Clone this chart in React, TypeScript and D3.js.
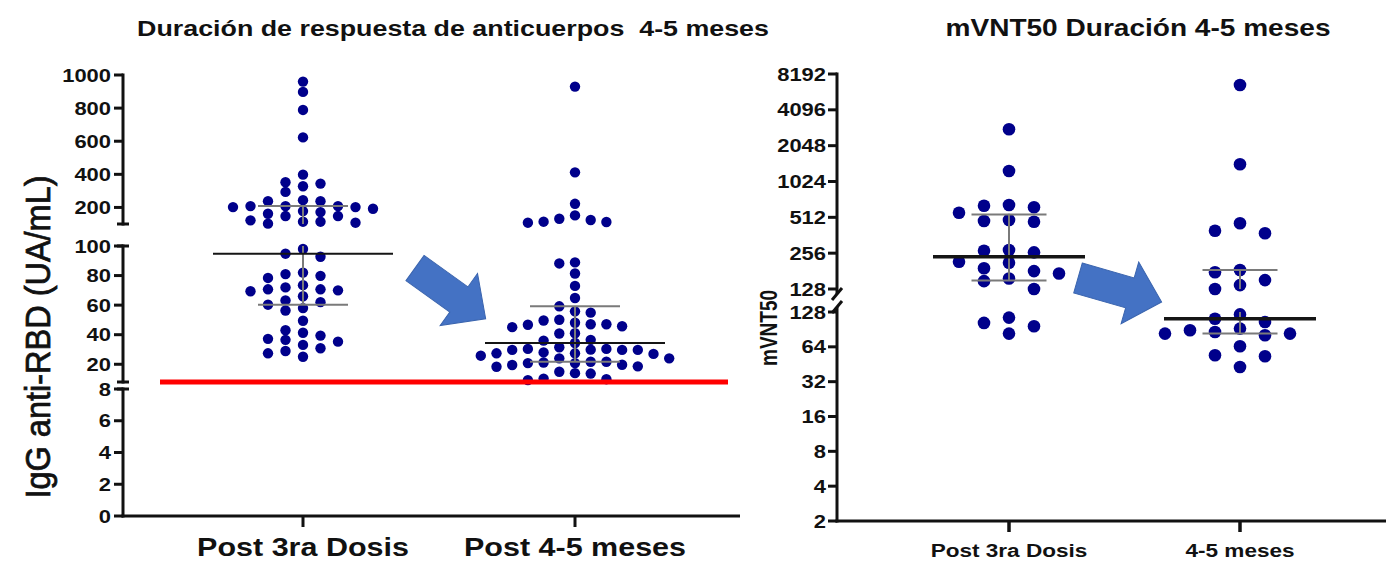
import React from "react";
import * as d3 from "d3";

// IgG anti-RBD (UA/mL), left panel
const igGroups = ["Post 3ra Dosis", "Post 4-5 meses"];
const igPost3ra = [
  960, 898, 789, 623, 398, 344, 328, 352, 294, 244, 172, 238, 178, 122, 208, 148, 192, 108, 202, 102,
  208, 148, 208, 114, 202, 114, 238, 162,
  98, 94.8, 92.7, 79.8, 78.4, 82, 81, 73.5, 70.7, 70.7, 70, 72, 69.4, 62, 63.2, 56.4, 60.3, 66, 58,
  49.4, 41.3, 39.4, 33.1, 35.3, 29, 37.2, 30.8, 43, 36.5, 25.1, 27.4,
];
const igPost45 = [
  930, 412, 222, 112, 132, 152, 108, 114, 124,
  88.2, 88.9, 81.4, 73, 64.8, 59.2, 55.8, 54.9, 46.7, 47.1, 50.1, 45.1, 49.6, 48.1, 47.1, 45.7, 40.8,
  36.5, 36, 41, 34.4, 29.7, 21.2, 30.4, 24, 27.4, 27.4, 29.7, 29.7, 31.5, 25.8, 27, 28, 21.7, 30.4, 24,
  29.9, 21.7, 19.5, 20.8, 14, 18.3, 10.3, 19.7, 13.7, 20.8, 9.3, 18.6, 14.9, 9.9,
];
const igUpperTicks = [200, 400, 600, 800, 1000];
const igMidTicks = [20, 40, 60, 80, 100];
const igLowTicks = [0, 2, 4, 6, 8];
const igCutoff = 8;

// mVNT50, right panel
const vntGroups = ["Post 3ra Dosis", "4-5 meses"];
const vntPost3ra = [
  2811, 1255, 650, 622, 641, 560, 470, 486, 477, 260, 272, 268, 217, 191, 173, 213, 181, 149, 157, 128,
  114.5, 83.3, 103, 96.4,
];
const vnt45 = [
  6627, 1428, 456, 395, 376, 185, 177, 152, 128, 138, 122, 112, 105, 80.6, 86, 64.8, 42.9, 92, 83.3,
  83.3, 89, 53, 54.2,
];
const vntUpperTicks = [128, 256, 512, 1024, 2048, 4096, 8192];
const vntLowerTicks = [2, 4, 8, 16, 32, 64, 128];

const FONT = "'Liberation Sans', Arial, Helvetica, sans-serif";
const DOT = "#00008B";
const ARROW = "#4472C4";
const SX = 1.22; // the source figure is stretched horizontally

type Seg = { lo: number; hi: number; y: (v: number) => number; ticks: number[] };

const posOf = (segs: Seg[]) => (v: number) => {
  const s = segs.find((s) => v >= s.lo && v <= s.hi) ?? segs[segs.length - 1];
  return s.y(v);
};

// quartiles the way Prism computes them: position p*(n+1)
function quart(values: number[], p: number) {
  const s = [...values].sort((a, b) => a - b);
  const n = s.length;
  const h = p * (n + 1);
  if (h <= 1) return s[0];
  if (h >= n) return s[n - 1];
  const i = Math.floor(h);
  return s[i - 1] + (h - i) * (s[i] - s[i - 1]);
}

// column layout: each dot goes in the lane nearest the centre that is free
function swarm(values: number[], pos: (v: number) => number, gap: number) {
  const pts = values.map((v, i) => ({ v, i, y: pos(v), lane: 0 }));
  const lanes = new Map<number, number[]>();
  [...pts].sort((a, b) => a.y - b.y).forEach((p) => {
    for (let k = 0; k < 60; k++) {
      const lane = k === 0 ? 0 : k % 2 === 1 ? -(k + 1) / 2 : k / 2;
      const ys = lanes.get(lane) || [];
      if (ys.every((y) => Math.abs(y - p.y) >= gap)) {
        p.lane = lane;
        ys.push(p.y);
        lanes.set(lane, ys);
        break;
      }
    }
  });
  return pts;
}

function clipped(a: number, b: number, segs: Seg[]) {
  const lo = Math.min(a, b);
  const hi = Math.max(a, b);
  return segs
    .filter((s) => hi >= s.lo && lo <= s.hi)
    .map((s) => [s.y(Math.max(lo, s.lo)), s.y(Math.min(hi, s.hi))])
    .filter(([y1, y2]) => Math.abs(y1 - y2) > 0.5);
}

const HText = ({ x, y, size, anchor = "middle", weight = "bold", children }: any) => (
  <text
    transform={`translate(${x},${y}) scale(${SX},1)`}
    textAnchor={anchor}
    fontSize={size}
    fontWeight={weight}
    fontFamily={FONT}
    fill="#111"
    style={{ whiteSpace: "pre" }}
  >
    {children}
  </text>
);

const Arrow = ({ x, y, angle }: { x: number; y: number; angle: number }) => {
  const L = 87, hl = 33, h1 = 15.5, h2 = 32;
  const pts = [[0, -h1], [L - hl, -h1], [L - hl, -h2], [L, 0], [L - hl, h2], [L - hl, h1], [0, h1]];
  return (
    <polygon
      points={pts.map((p) => p.join(",")).join(" ")}
      transform={`translate(${x},${y}) rotate(${angle})`}
      fill={ARROW}
      stroke="#3A64AE"
      strokeWidth={1}
    />
  );
};

function Groups({ series, x, segs, r, gap, spacing, medHalf, qHalf, medWidth }: any) {
  const pos = posOf(segs);
  return (
    <g>
      {series.map((vals: number[], gi: number) => {
        const cx = x(gi);
        const dots = swarm(vals, pos, gap);
        const med = quart(vals, 0.5);
        const q1 = quart(vals, 0.25);
        const q3 = quart(vals, 0.75);
        return (
          <g key={gi}>
            {dots.map((d) => (
              <circle key={d.i} cx={cx + d.lane * spacing[gi]} cy={d.y} r={r} fill={DOT} />
            ))}
            {clipped(q1, q3, segs).map(([y1, y2], k) => (
              <line key={k} x1={cx} x2={cx} y1={y1} y2={y2} stroke="#7a7a7a" strokeWidth={2} />
            ))}
            {[q1, q3].map((q, k) => (
              <line key={"q" + k} x1={cx - qHalf} x2={cx + qHalf} y1={pos(q)} y2={pos(q)} stroke="#7a7a7a" strokeWidth={2} />
            ))}
            <line x1={cx - medHalf} x2={cx + medHalf} y1={pos(med)} y2={pos(med)} stroke="#151515" strokeWidth={medWidth} />
          </g>
        );
      })}
    </g>
  );
}

export default function App() {
  // left panel scales
  const igSegs: Seg[] = [
    { lo: 100, hi: 1000, y: d3.scaleLinear().domain([100, 1000]).range([224, 75]), ticks: igUpperTicks },
    { lo: 8, hi: 100, y: d3.scaleLinear().domain([8, 100]).range([382, 246]), ticks: igMidTicks },
    { lo: 0, hi: 8, y: d3.scaleLinear().domain([0, 8]).range([516, 389]), ticks: igLowTicks },
  ];
  const igX = d3.scalePoint<string>().domain(igGroups).range([303, 575]);
  const igAxisX = 123;
  const igBase = 516;

  // right panel scales
  const vntSegs: Seg[] = [
    { lo: 128, hi: 8192, y: d3.scaleLog().base(2).domain([128, 8192]).range([289, 74]), ticks: vntUpperTicks },
    { lo: 2, hi: 128, y: d3.scaleLog().base(2).domain([2, 128]).range([521, 312]), ticks: vntLowerTicks },
  ];
  const vntX = d3.scalePoint<string>().domain(vntGroups).range([1009, 1240]);
  const vntAxisX = 837;
  const vntBase = 521;

  const igPos = posOf(igSegs);

  return (
    <svg width={1398} height={562} style={{ position: "fixed", left: 0, top: 0, background: "#fff" }}>
      <rect width={1398} height={562} fill="#fff" />

      {/* ---------- left panel ---------- */}
      <HText x={453} y={36} size={22}>Duración de respuesta de anticuerpos  4-5 meses</HText>
      <text
        transform={`translate(50,337) scale(1.08,1) rotate(-90)`}
        textAnchor="middle"
        fontSize={32.5}
        fontFamily={FONT}
        fill="#111"
        stroke="#111"
        strokeWidth={0.7}
      >
        IgG anti-RBD (UA/mL)
      </text>

      {igSegs.map((s, i) => {
        const yTop = s.y(s.hi);
        const yBot = i === igSegs.length - 1 ? igBase : s.y(s.lo);
        return (
          <g key={i}>
            <line x1={igAxisX} x2={igAxisX} y1={yTop - 1.5} y2={yBot + 1.5} stroke="#111" strokeWidth={3} />
            {i > 0 && <line x1={igAxisX - 6} x2={igAxisX + 6} y1={yTop} y2={yTop} stroke="#111" strokeWidth={3} />}
            {i < igSegs.length - 1 && <line x1={igAxisX - 6} x2={igAxisX + 6} y1={yBot} y2={yBot} stroke="#111" strokeWidth={3} />}
            {s.ticks.map((t) => (
              <g key={t}>
                <line x1={igAxisX - 9} x2={igAxisX} y1={s.y(t)} y2={s.y(t)} stroke="#111" strokeWidth={3} />
                <HText x={igAxisX - 12} y={s.y(t) + 6.5} size={18} anchor="end">{t}</HText>
              </g>
            ))}
          </g>
        );
      })}
      <line x1={igAxisX - 1.5} x2={740} y1={igBase} y2={igBase} stroke="#111" strokeWidth={3} />
      {igGroups.map((g) => (
        <g key={g}>
          <line x1={igX(g)!} x2={igX(g)!} y1={igBase} y2={igBase + 11} stroke="#111" strokeWidth={3} />
          <HText x={igX(g)!} y={556} size={25}>{g}</HText>
        </g>
      ))}

      <Groups
        series={[igPost3ra, igPost45]}
        x={(i: number) => igX(igGroups[i])!}
        segs={igSegs}
        r={5.2}
        gap={9.6}
        spacing={[17.5, 15.7]}
        medHalf={90}
        qHalf={45}
        medWidth={2}
      />
      <line x1={160} x2={728} y1={igPos(igCutoff)} y2={igPos(igCutoff)} stroke="#FF0000" strokeWidth={5} />
      <Arrow x={415} y={268} angle={35.7} />

      {/* ---------- right panel ---------- */}
      <HText x={1138} y={36} size={23}>mVNT50 Duración 4-5 meses</HText>
      <text
        transform={`translate(777,328) scale(${SX},1) rotate(-90)`}
        textAnchor="middle"
        fontSize={19}
        fontWeight="bold"
        fontFamily={FONT}
        fill="#111"
      >
        mVNT50
      </text>

      {vntSegs.map((s, i) => {
        const yTop = i === 0 ? s.y(s.hi) - 1.5 : s.y(s.hi) - 5;
        const yBot = i === vntSegs.length - 1 ? vntBase + 1.5 : s.y(s.lo) + 5;
        return (
          <g key={i}>
            <line x1={vntAxisX} x2={vntAxisX} y1={yTop} y2={yBot} stroke="#111" strokeWidth={3} />
            {s.ticks.map((t) => (
              <g key={t}>
                <line x1={vntAxisX - 9} x2={vntAxisX} y1={s.y(t)} y2={s.y(t)} stroke="#111" strokeWidth={3} />
                <HText x={vntAxisX - 11} y={s.y(t) + 6.5} size={18} anchor="end">{t}</HText>
              </g>
            ))}
          </g>
        );
      })}
      {[vntSegs[0].y(128) + 5, vntSegs[1].y(128) - 5].map((y, k) => (
        <line key={k} x1={vntAxisX - 5} x2={vntAxisX + 5} y1={y + 6} y2={y - 6} stroke="#111" strokeWidth={3} />
      ))}
      <line x1={vntAxisX - 1.5} x2={1386} y1={vntBase} y2={vntBase} stroke="#111" strokeWidth={3} />
      {vntGroups.map((g) => (
        <g key={g}>
          <line x1={vntX(g)!} x2={vntX(g)!} y1={vntBase} y2={vntBase + 11} stroke="#111" strokeWidth={3.5} />
          <HText x={vntX(g)!} y={557} size={18.5}>{g}</HText>
        </g>
      ))}

      <Groups
        series={[vntPost3ra, vnt45]}
        x={(i: number) => vntX(vntGroups[i])!}
        segs={vntSegs}
        r={6.3}
        gap={12}
        spacing={[25, 25]}
        medHalf={76}
        qHalf={37.5}
        medWidth={3.5}
      />
      <Arrow x={1078} y={278} angle={16} />
    </svg>
  );
}
